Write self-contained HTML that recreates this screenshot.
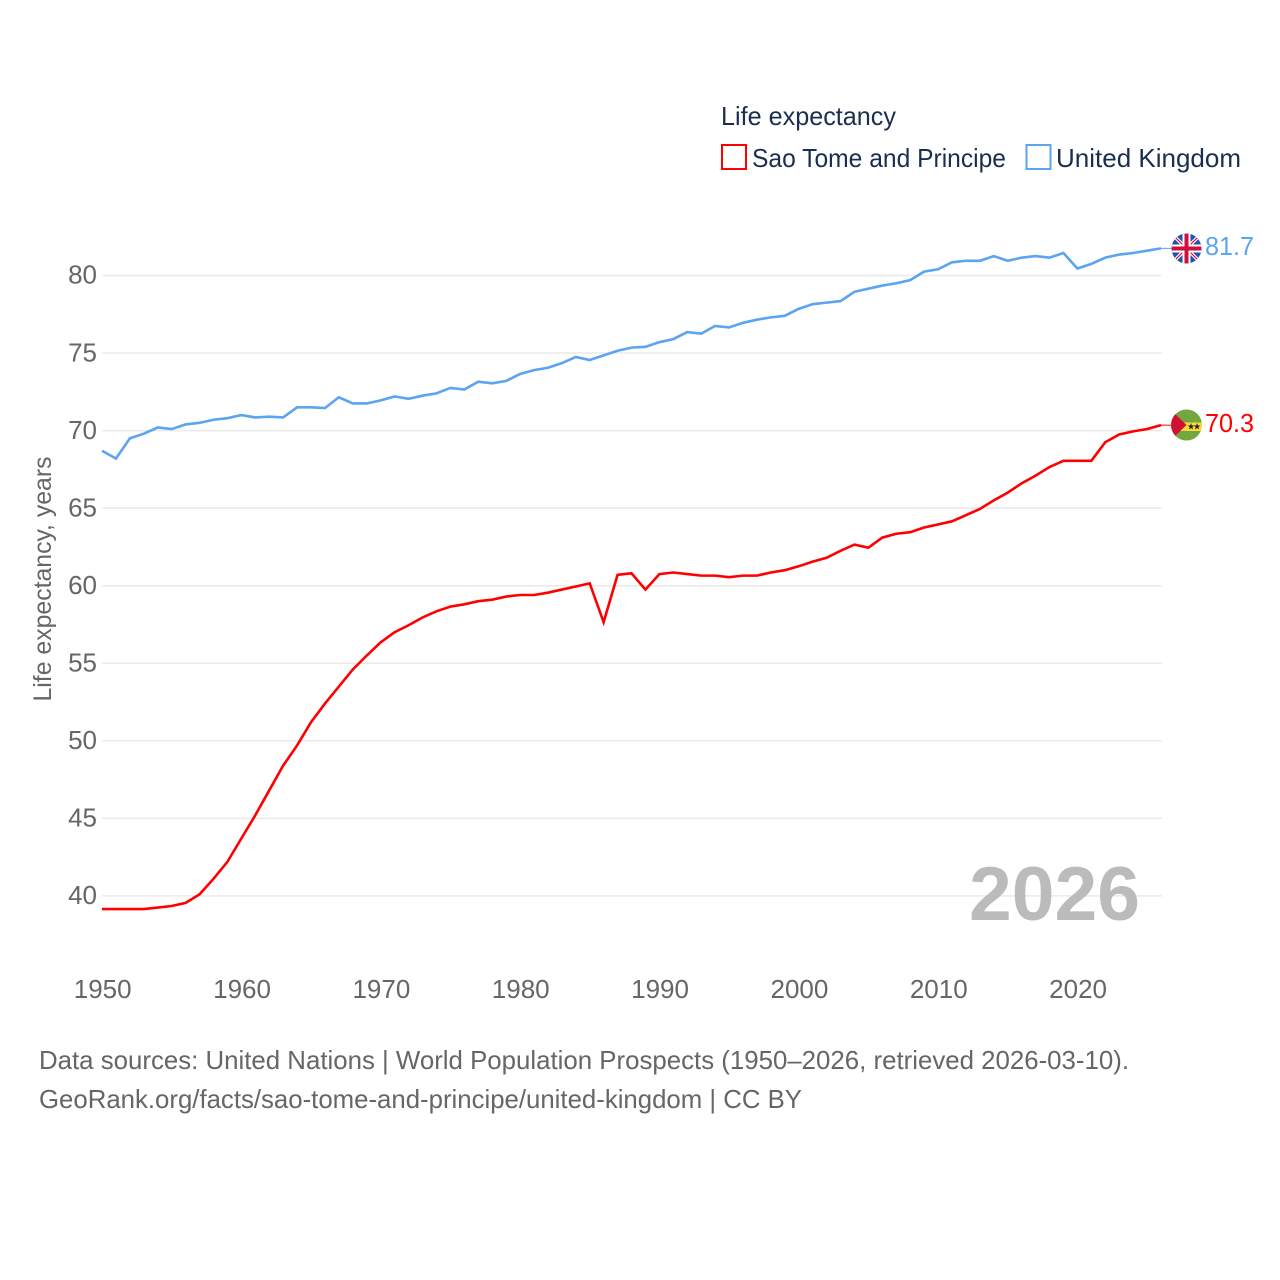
<!DOCTYPE html>
<html lang="en">
<head>
<meta charset="utf-8">
<title>Life expectancy: Sao Tome and Principe vs United Kingdom</title>
<style>
html,body{margin:0;padding:0;background:#fff;}
svg{display:block;font-family:"Liberation Sans",sans-serif;}
</style>
</head>
<body>
<svg id="chart" xmlns="http://www.w3.org/2000/svg" width="1280" height="1280" viewBox="0 0 1280 1280">
  <rect width="1280" height="1280" fill="#fff"/>
  <g id="grid"></g>
  <g id="yticks"></g>
  <g id="xticks"></g>
  <text transform="translate(51,579) rotate(-90)" text-anchor="middle" font-size="25" fill="#666" textLength="245" lengthAdjust="spacingAndGlyphs">Life expectancy, years</text>
  <text x="969" y="920" font-size="76" font-weight="700" fill="#bbb" textLength="171" lengthAdjust="spacingAndGlyphs">2026</text>

  <g>
    <text x="721" y="125" font-size="26" fill="#1a2f4f" textLength="175" lengthAdjust="spacingAndGlyphs">Life expectancy</text>
    <g>
      <rect x="722" y="145" width="24" height="24" fill="#fff" stroke="#f00" stroke-width="2"/>
      <text x="752" y="167" font-size="26" fill="#1a2f4f" textLength="254" lengthAdjust="spacingAndGlyphs">Sao Tome and Principe</text>
    </g>
    <g>
      <rect x="1026.5" y="145" width="24" height="24" fill="#fff" stroke="#5ba4ef" stroke-width="2"/>
      <text x="1056" y="167" font-size="26" fill="#1a2f4f" textLength="185" lengthAdjust="spacingAndGlyphs">United Kingdom</text>
    </g>
  </g>

  <g id="series"></g>

  <defs>
    <clipPath id="flag-clip-uk"><circle cx="1186.5" cy="248.5" r="15"/></clipPath>
    <clipPath id="flag-clip-st"><circle cx="1186.5" cy="425" r="15.5"/></clipPath>
  </defs>
  <g clip-path="url(#flag-clip-uk)">
    <rect x="1171" y="233" width="31" height="31" fill="#1c55b0"/>
    <path d="M1171 233L1202 264M1202 233L1171 264" stroke="#fff" stroke-width="3.500"/>
    <path d="M1171 233L1202 264M1202 233L1171 264" stroke="#e0103a" stroke-width="1.200"/>
    <rect x="1171" y="244.500" width="31" height="8" fill="#fff"/>
    <rect x="1182.500" y="233" width="8" height="31" fill="#fff"/>
    <rect x="1171" y="246.500" width="31" height="4" fill="#d0103a"/>
    <rect x="1184.500" y="233" width="4" height="31" fill="#d0103a"/>
  </g>
  <g clip-path="url(#flag-clip-st)">
    <rect x="1171" y="409" width="31" height="32" fill="#72a63f"/>
    <rect x="1171" y="422.500" width="31" height="8.500" fill="#ffd83d"/>
    <path d="M1171 410L1186.500 425L1171 440Z" fill="#d2102f"/>
    <text x="1187" y="429.500" font-size="9" fill="#222" font-family="'DejaVu Sans',sans-serif">★</text>
    <text x="1193" y="429.500" font-size="9" fill="#222" font-family="'DejaVu Sans',sans-serif">★</text>
  </g>
  <text x="1205" y="255" font-size="26" fill="#5ba4ef" textLength="49" lengthAdjust="spacingAndGlyphs">81.7</text>
  <text x="1205" y="432" font-size="26" fill="#f00" textLength="49" lengthAdjust="spacingAndGlyphs">70.3</text>

  <g>
    <text x="39" y="1069" font-size="26" fill="#666" textLength="1090" lengthAdjust="spacingAndGlyphs">Data sources: United Nations | World Population Prospects (1950–2026, retrieved 2026-03-10).</text>
    <text x="39" y="1108" font-size="26" fill="#666" textLength="763" lengthAdjust="spacingAndGlyphs">GeoRank.org/facts/sao-tome-and-principe/united-kingdom | CC BY</text>
  </g>
</svg>
<script>
const firstYear = 1950;
const lastYear = 2026;
const yTickValues = [40, 45, 50, 55, 60, 65, 70, 75, 80];
const xTickYears = [1950, 1960, 1970, 1980, 1990, 2000, 2010, 2020];
const saoTomeValues = [39.15,39.15,39.15,39.15,39.25,39.35,39.55,40.1,41.1,42.2,43.7,45.2,46.8,48.4,49.7,51.2,52.4,53.5,54.6,55.5,56.35,57.0,57.45,57.95,58.35,58.65,58.8,59.0,59.1,59.3,59.4,59.4,59.55,59.75,59.95,60.15,57.65,60.7,60.8,59.75,60.75,60.85,60.75,60.65,60.65,60.55,60.65,60.65,60.85,61.0,61.25,61.55,61.8,62.25,62.65,62.45,63.1,63.35,63.45,63.75,63.95,64.15,64.55,64.95,65.5,66.0,66.6,67.1,67.65,68.05,68.05,68.05,69.25,69.75,69.95,70.1,70.35];
const ukValues = [68.7,68.2,69.5,69.8,70.2,70.1,70.4,70.5,70.7,70.8,71.0,70.85,70.9,70.85,71.5,71.5,71.45,72.15,71.75,71.75,71.95,72.2,72.05,72.25,72.4,72.75,72.65,73.15,73.05,73.2,73.65,73.9,74.05,74.35,74.75,74.55,74.85,75.15,75.35,75.4,75.7,75.9,76.35,76.25,76.75,76.65,76.95,77.15,77.3,77.4,77.85,78.15,78.25,78.35,78.95,79.15,79.35,79.5,79.7,80.25,80.4,80.85,80.95,80.95,81.25,80.95,81.15,81.25,81.15,81.45,80.45,80.75,81.15,81.35,81.45,81.6,81.75];

const NS = 'http://www.w3.org/2000/svg';
const plotLeft = 102, plotRight = 1161, gridRight = 1162;
const xScale = function (year) { return plotLeft + (year - firstYear) * (plotRight - plotLeft) / (lastYear - firstYear); };
const yScale = function (value) { return 275.5 + (80 - value) * 15.51; };

const gridGroup = document.getElementById('grid');
const yTickGroup = document.getElementById('yticks');
const xTickGroup = document.getElementById('xticks');
const seriesGroup = document.getElementById('series');

yTickValues.forEach(function (v) {
  const line = document.createElementNS(NS, 'line');
  
  
  line.setAttribute('x1', plotLeft);
  line.setAttribute('x2', gridRight);
  line.setAttribute('y1', yScale(v));
  line.setAttribute('y2', yScale(v));
  line.setAttribute('stroke', '#eaeaea');
  line.setAttribute('stroke-width', '1.5');
  gridGroup.appendChild(line);

  const label = document.createElementNS(NS, 'text');
  
  
  label.setAttribute('x', 97);
  label.setAttribute('y', yScale(v) + 8.2);
  label.setAttribute('text-anchor', 'end');
  label.setAttribute('font-size', '26');
  label.setAttribute('fill', '#666');
  label.textContent = v;
  yTickGroup.appendChild(label);
});

xTickYears.forEach(function (year) {
  const label = document.createElementNS(NS, 'text');
  
  
  label.setAttribute('x', xScale(year) + 0.7);
  label.setAttribute('y', 998);
  label.setAttribute('text-anchor', 'middle');
  label.setAttribute('font-size', '26');
  label.setAttribute('fill', '#666');
  label.textContent = year;
  xTickGroup.appendChild(label);
});

function pathFrom(values) {
  return values.map(function (v, i) {
    return (i ? 'L' : 'M') + xScale(firstYear + i).toFixed(2) + ' ' + yScale(v).toFixed(2);
  }).join('');
}

const ukLine = document.createElementNS(NS, 'path');


ukLine.setAttribute('d', pathFrom(ukValues));
ukLine.setAttribute('fill', 'none');
ukLine.setAttribute('stroke', '#5ba4ef');
ukLine.setAttribute('stroke-width', '2.6');
ukLine.setAttribute('stroke-linejoin', 'miter');
seriesGroup.appendChild(ukLine);

const stLine = document.createElementNS(NS, 'path');


stLine.setAttribute('d', pathFrom(saoTomeValues));
stLine.setAttribute('fill', 'none');
stLine.setAttribute('stroke', '#f00');
stLine.setAttribute('stroke-width', '2.6');
stLine.setAttribute('stroke-linejoin', 'miter');
seriesGroup.appendChild(stLine);

const ukLeader = document.createElementNS(NS, 'line');


ukLeader.setAttribute('x1', plotRight);
ukLeader.setAttribute('x2', 1172);
ukLeader.setAttribute('y1', yScale(ukValues[ukValues.length - 1]));
ukLeader.setAttribute('y2', yScale(ukValues[ukValues.length - 1]));
ukLeader.setAttribute('stroke', '#5ba4ef');
ukLeader.setAttribute('stroke-width', '1');
seriesGroup.appendChild(ukLeader);

const stLeader = document.createElementNS(NS, 'line');


stLeader.setAttribute('x1', plotRight);
stLeader.setAttribute('x2', 1172);
stLeader.setAttribute('y1', yScale(saoTomeValues[saoTomeValues.length - 1]));
stLeader.setAttribute('y2', yScale(saoTomeValues[saoTomeValues.length - 1]));
stLeader.setAttribute('stroke', '#f00');
stLeader.setAttribute('stroke-width', '1');
seriesGroup.appendChild(stLeader);
</script>
</body>
</html>
